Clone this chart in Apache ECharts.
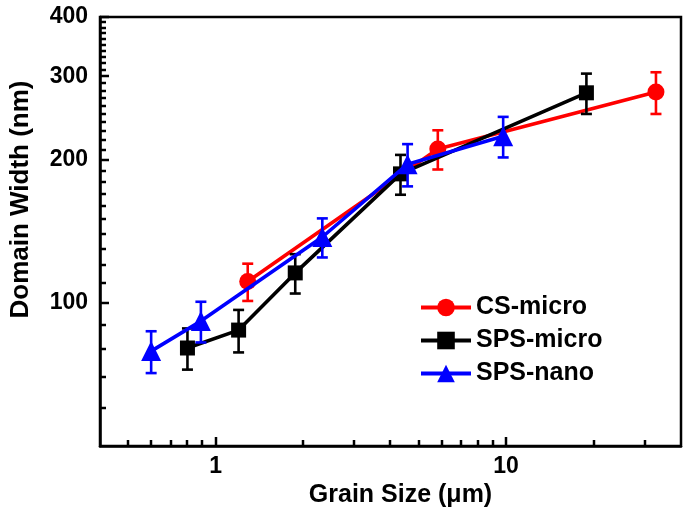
<!DOCTYPE html>
<html><head><meta charset="utf-8">
<script src="https://cdn.jsdelivr.net/npm/echarts@6/dist/echarts.min.js"></script>
<style>html,body{margin:0;padding:0;background:#fff}#c{width:690px;height:513px}</style>
</head><body><div id="c"></div>
<script>
const csX = [1.29, 5.82, 32.8];
const csY = [111, 211, 278];
const csErr = [10, 20, 28];
const spsMicroX = [0.80, 1.20, 1.88, 4.33, 18.9];
const spsMicroY = [80.4, 87.7, 115.7, 187, 277];
const spsMicroErr = [8, 9, 11, 18, 27];
const spsNanoX = [0.60, 0.89, 2.33, 4.58, 9.77];
const spsNanoY = [79.2, 91.6, 137.7, 196, 224.5];
const spsNanoErr = [8, 9, 13, 20, 22];
const xMajor = [1, 10];
const xMinor = [0.5, 0.6, 0.7, 0.8, 0.9, 2, 3, 4, 5, 6, 7, 8, 9, 20, 30];
const yMajor = [100, 200, 300, 400];
const yMinor = [60, 70, 80, 90, 110, 120, 130, 140, 150, 160, 170, 180, 190,
  210, 220, 230, 240, 250, 260, 270, 280, 290, 310, 320, 330, 340, 350, 360, 370, 380, 390];

const X_MIN = 0.4, X_MAX = 40, Y_MIN = 50, Y_MAX = 400;
const FONT = '"Liberation Sans", Arial, sans-serif';
const pts = (xs, ys) => xs.map((x, i) => [x, ys[i]]);
const errs = (xs, ys, es) => xs.map((x, i) => [x, ys[i], ys[i] - es[i], ys[i] + es[i]]);

function errRender(color) {
  return function (params, api) {
    const x = api.value(0), lo = api.value(2), hi = api.value(3);
    const a = api.coord([x, hi]), b = api.coord([x, lo]);
    const w = 5.5;
    const st = { stroke: color, lineWidth: 2.6 };
    return { type: 'group', children: [
      { type: 'line', shape: { x1: a[0], y1: a[1], x2: b[0], y2: b[1] }, style: st },
      { type: 'line', shape: { x1: a[0] - w, y1: a[1], x2: a[0] + w, y2: a[1] }, style: st },
      { type: 'line', shape: { x1: b[0] - w, y1: b[1], x2: b[0] + w, y2: b[1] }, style: st }
    ]};
  };
}
// inward ticks, positioned through the axes' own scales
function yTickRender(params, api) {
  const p = api.coord([X_MIN, api.value(1)]);
  const y = Math.round(p[1]);
  const len = api.value(2);
  return { type: 'line', shape: { x1: p[0], y1: y, x2: p[0] + len, y2: y }, style: { stroke: '#000', lineWidth: 2.5 } };
}
function xTickRender(params, api) {
  const p = api.coord([api.value(0), Y_MIN]);
  const x = Math.round(p[0]);
  const len = api.value(2);
  return { type: 'line', shape: { x1: x, y1: p[1], x2: x, y2: p[1] - len }, style: { stroke: '#000', lineWidth: 2.5 } };
}
const yTickData = yMajor.map(v => [X_MIN, v, 9]).concat(yMinor.map(v => [X_MIN, v, 6]));
const xTickData = xMajor.map(v => [v, Y_MIN, 9]).concat(xMinor.map(v => [v, Y_MIN, 6]));

const chart = echarts.init(document.getElementById('c'), null, { renderer: 'canvas' });
const fmt = v => String(Math.round(v * 1000) / 1000);

chart.setOption({
  animation: false,
  backgroundColor: '#fff',
  grid: { left: 100, right: 9, top: 17, bottom: 67, show: true, borderColor: '#000', borderWidth: 2.5, containLabel: false },
  legend: {
    left: 414, top: 290, orient: 'vertical', itemWidth: 50, itemHeight: 22, itemGap: 8,
    lineStyle: { width: 4 },
    textStyle: { fontFamily: FONT, fontWeight: 'bold', fontSize: 25, color: '#000' },
    data: ['CS-micro', 'SPS-micro', 'SPS-nano']
  },
  xAxis: {
    type: 'log', logBase: 10, min: X_MIN, max: X_MAX, position: 'bottom',
    splitLine: { show: false }, minorTick: { show: false },
    name: 'Grain Size (\u03bcm)', nameLocation: 'middle', nameGap: 29,
    nameTextStyle: { fontFamily: FONT, fontWeight: 'bold', fontSize: 25, color: '#000', padding: [0, 0, 0, 20] },
    axisLine: { show: true, lineStyle: { color: '#000', width: 2.5 } },
    axisTick: { show: false },
    axisLabel: { show: true, margin: 9, fontFamily: FONT, fontWeight: 'bold', fontSize: 23, color: '#000', customValues: xMajor, formatter: fmt }
  },
  yAxis: {
    type: 'log', logBase: 10, min: Y_MIN, max: Y_MAX, position: 'left',
    splitLine: { show: false }, minorTick: { show: false },
    name: 'Domain Width (nm)', nameLocation: 'middle', nameGap: 66,
    nameTextStyle: { fontFamily: FONT, fontWeight: 'bold', fontSize: 26, color: '#000', padding: [0, 0, 0, 64] },
    axisLine: { show: true, lineStyle: { color: '#000', width: 2.5 } },
    axisTick: { show: false },
    axisLabel: { show: true, margin: 12, fontFamily: FONT, fontWeight: 'bold', fontSize: 23, color: '#000', customValues: yMajor, formatter: fmt }
  },
  series: [
    { type: 'custom', name: 'yticks', renderItem: yTickRender, data: yTickData, encode: { x: 0, y: 1 }, clip: false, silent: true, z: 1 },
    { type: 'custom', name: 'xticks', renderItem: xTickRender, data: xTickData, encode: { x: 0, y: 1 }, clip: false, silent: true, z: 1 },
    { type: 'custom', name: 'CS-micro error', renderItem: errRender('#ff0000'), data: errs(csX, csY, csErr), encode: { x: 0, y: [1, 2, 3] }, z: 3 },
    { type: 'line', name: 'CS-micro', data: pts(csX, csY), symbol: 'circle', symbolSize: 17,
      lineStyle: { color: '#ff0000', width: 3.6 }, itemStyle: { color: '#ff0000' }, z: 3 },
    { type: 'custom', name: 'SPS-micro error', renderItem: errRender('#000000'), data: errs(spsMicroX, spsMicroY, spsMicroErr), encode: { x: 0, y: [1, 2, 3] }, z: 4 },
    { type: 'line', name: 'SPS-micro', data: pts(spsMicroX, spsMicroY), symbol: 'rect', symbolSize: 15,
      lineStyle: { color: '#000000', width: 3.6 }, itemStyle: { color: '#000000' }, z: 4 },
    { type: 'custom', name: 'SPS-nano error', renderItem: errRender('#0000ff'), data: errs(spsNanoX, spsNanoY, spsNanoErr), encode: { x: 0, y: [1, 2, 3] }, z: 5 },
    { type: 'line', name: 'SPS-nano', data: pts(spsNanoX, spsNanoY), symbol: 'triangle', symbolSize: 20,
      lineStyle: { color: '#0000ff', width: 3.6 }, itemStyle: { color: '#0000ff' }, z: 5 }
  ]
});
</script></body></html>
